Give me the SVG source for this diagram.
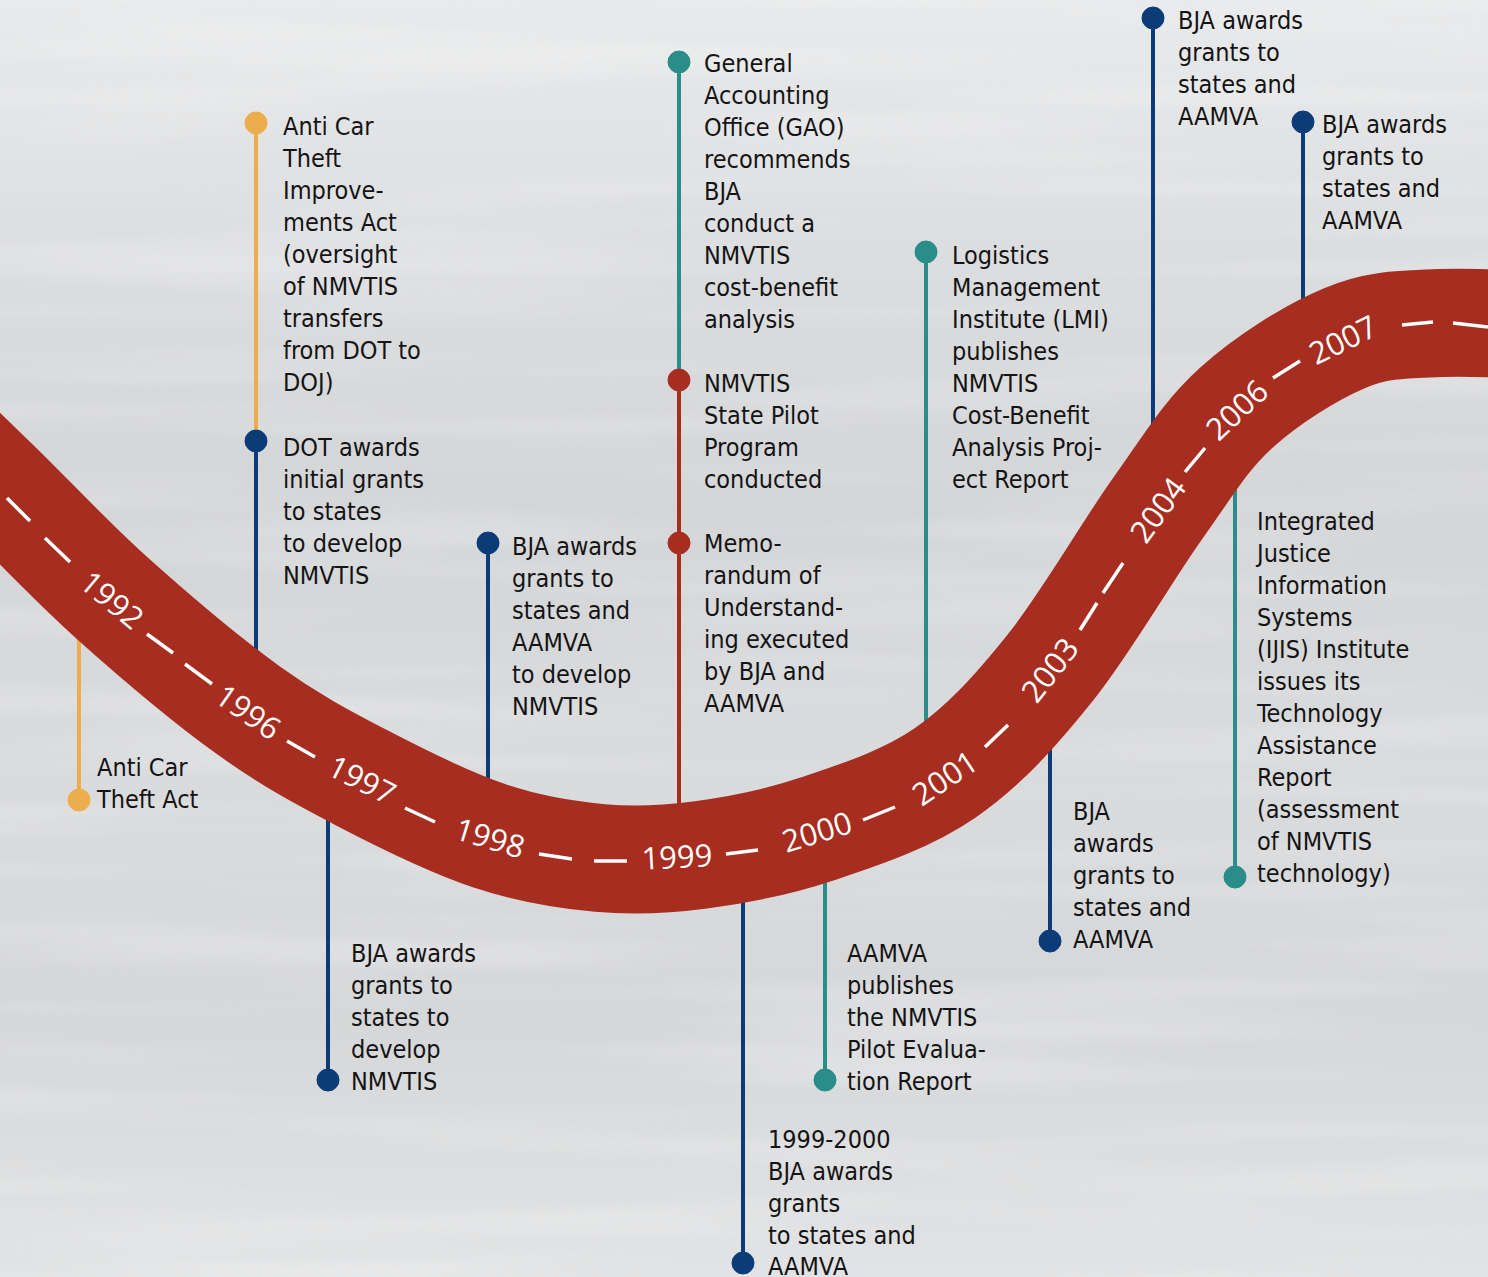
<svg xmlns="http://www.w3.org/2000/svg" width="1488" height="1277" viewBox="0 0 1488 1277">
<defs>
<linearGradient id="bg" x1="0" y1="0" x2="0" y2="1">
<stop offset="0" stop-color="#e9eaeb"/>
<stop offset="0.2" stop-color="#dcdddf"/>
<stop offset="0.4" stop-color="#d4d5d7"/>
<stop offset="0.6" stop-color="#dadbdd"/>
<stop offset="0.8" stop-color="#d6d7d9"/>
<stop offset="1" stop-color="#e2e3e4"/>
</linearGradient>
<filter id="streak" x="0" y="0" width="100%" height="100%">
<feTurbulence type="fractalNoise" baseFrequency="0.0015 0.025" numOctaves="2" seed="3"/>
<feColorMatrix type="matrix" values="0 0 0 0 1  0 0 0 0 1  0 0 0 0 1  1.2 0 0 0 -0.55"/>
</filter>
<style>
.t{font-family:"DejaVu Sans Condensed","DejaVu Sans",sans-serif;font-stretch:condensed;font-size:25px;fill:#141414}
.yr{font-family:"Open Sans","Liberation Sans",sans-serif;font-size:31px;fill:#ffffff;text-anchor:middle}
.dash{stroke:#ffffff;stroke-width:3.5;fill:none}
.ln{stroke-width:4;fill:none}
.yel{stroke:#ECAE4C;fill:#ECAE4C}
.blu{stroke:#0C3C78;fill:#0C3C78}
.tea{stroke:#2A8D88;fill:#2A8D88}
.red{stroke:#A62D20;fill:#A62D20}
</style>
</defs>
<rect width="1488" height="1277" fill="url(#bg)"/>
<rect width="1488" height="1277" filter="url(#streak)" opacity="0.5"/>

<g id="connectors">
<line class="ln yel" x1="79" y1="600" x2="79" y2="800"/>
<line class="ln yel" x1="256" y1="123" x2="256" y2="441"/>
<line class="ln blu" x1="256" y1="441" x2="256" y2="700"/>
<line class="ln blu" x1="488" y1="543" x2="488" y2="830"/>
<line class="ln blu" x1="328" y1="780" x2="328" y2="1080"/>
<line class="ln tea" x1="679" y1="62" x2="679" y2="380"/>
<line class="ln red" x1="679" y1="380" x2="679" y2="543"/>
<line class="ln red" x1="679" y1="543" x2="679" y2="850"/>
<line class="ln blu" x1="743" y1="860" x2="743" y2="1263"/>
<line class="ln tea" x1="825" y1="840" x2="825" y2="1080"/>
<line class="ln tea" x1="926" y1="252" x2="926" y2="780"/>
<line class="ln blu" x1="1050" y1="700" x2="1050" y2="941"/>
<line class="ln blu" x1="1153" y1="18" x2="1153" y2="500"/>
<line class="ln blu" x1="1303" y1="122" x2="1303" y2="360"/>
<line class="ln tea" x1="1235" y1="420" x2="1235" y2="877"/>
</g>

<g id="band">
<path d="M-60,430 C-40,449.3 -28.7,460 0,488 C28.7,516 70.7,561 112,598 C153.3,635 206.3,680 248,710 C289.7,740 321.7,757 362,778 C402.3,799 450.3,822.7 490,836 C529.7,849.3 565,854.8 600,858 C635,861.2 663.8,859.8 700,855 C736.2,850.2 776.2,842.7 817,829 C857.8,815.3 906.2,799.8 945,773 C983.8,746.2 1014.5,712.2 1050,668 C1085.5,623.8 1127,551.3 1158,508 C1189,464.7 1204.8,436.3 1236,408 C1267.2,379.7 1311,352.3 1345,338 C1379,323.7 1405.8,324.5 1440,323 C1474.2,321.5 1513.3,324.7 1550,325" fill="none" stroke="#A62D20" stroke-width="108"/>
<line class="dash" x1="7" y1="498" x2="30" y2="521"/>
<line class="dash" x1="45" y1="538" x2="70" y2="562"/>
<line class="dash" x1="147" y1="634" x2="173" y2="653"/>
<line class="dash" x1="185" y1="664" x2="212" y2="684"/>
<line class="dash" x1="287" y1="741" x2="315" y2="757"/>
<line class="dash" x1="405" y1="808" x2="435" y2="822"/>
<line class="dash" x1="539" y1="854" x2="572" y2="859"/>
<line class="dash" x1="594" y1="861" x2="627" y2="861"/>
<line class="dash" x1="726" y1="854" x2="758" y2="850"/>
<line class="dash" x1="863" y1="820" x2="895" y2="807"/>
<line class="dash" x1="985" y1="747" x2="1008" y2="725"/>
<line class="dash" x1="1080" y1="630" x2="1097" y2="603"/>
<line class="dash" x1="1103" y1="593" x2="1123" y2="563"/>
<line class="dash" x1="1185" y1="472" x2="1205" y2="448"/>
<line class="dash" x1="1273" y1="378" x2="1300" y2="361"/>
<line class="dash" x1="1402" y1="325" x2="1433" y2="322"/>
<line class="dash" x1="1453" y1="323" x2="1488" y2="327"/>
<text class="yr" transform="translate(112,600) rotate(40)" dy="11">1992</text>
<text class="yr" transform="translate(248,712) rotate(35)" dy="11">1996</text>
<text class="yr" transform="translate(362,780) rotate(27)" dy="11">1997</text>
<text class="yr" transform="translate(490,838) rotate(17)" dy="11">1998</text>
<text class="yr" transform="translate(677,857) rotate(-3)" dy="11">1999</text>
<text class="yr" transform="translate(817,832) rotate(-17)" dy="11">2000</text>
<text class="yr" transform="translate(945,778) rotate(-34)" dy="11">2001</text>
<text class="yr" transform="translate(1050,670) rotate(-52)" dy="11">2003</text>
<text class="yr" transform="translate(1158,510) rotate(-54)" dy="11">2004</text>
<text class="yr" transform="translate(1237,410) rotate(-43)" dy="11">2006</text>
<text class="yr" transform="translate(1343,340) rotate(-26)" dy="11">2007</text>
</g>

<g id="n-anti-car-theft-act">
<circle class="yel" cx="79" cy="800" r="11"/>
<text class="t"><tspan x="97" y="776">Anti Car</tspan><tspan x="97" y="808">Theft Act</tspan></text>
</g>
<g id="n-improvements-act">
<circle class="yel" cx="256" cy="123" r="11"/>
<text class="t"><tspan x="283" y="135">Anti Car</tspan><tspan x="283" y="167">Theft</tspan><tspan x="283" y="199">Improve-</tspan><tspan x="283" y="231">ments Act</tspan><tspan x="283" y="263">(oversight</tspan><tspan x="283" y="295">of NMVTIS</tspan><tspan x="283" y="327">transfers</tspan><tspan x="283" y="359">from DOT to</tspan><tspan x="283" y="391">DOJ)</tspan></text>
</g>
<g id="n-dot-awards">
<circle class="blu" cx="256" cy="441" r="11"/>
<text class="t"><tspan x="283" y="456">DOT awards</tspan><tspan x="283" y="488">initial grants</tspan><tspan x="283" y="520">to states</tspan><tspan x="283" y="552">to develop</tspan><tspan x="283" y="584">NMVTIS</tspan></text>
</g>
<g id="n-bja-1997">
<circle class="blu" cx="328" cy="1080" r="11"/>
<text class="t"><tspan x="351" y="962">BJA awards</tspan><tspan x="351" y="994">grants to</tspan><tspan x="351" y="1026">states to</tspan><tspan x="351" y="1058">develop</tspan><tspan x="351" y="1090">NMVTIS</tspan></text>
</g>
<g id="n-bja-1998">
<circle class="blu" cx="488" cy="543" r="11"/>
<text class="t"><tspan x="512" y="555">BJA awards</tspan><tspan x="512" y="587">grants to</tspan><tspan x="512" y="619">states and</tspan><tspan x="512" y="651">AAMVA</tspan><tspan x="512" y="683">to develop</tspan><tspan x="512" y="715">NMVTIS</tspan></text>
</g>
<g id="n-gao">
<circle class="tea" cx="679" cy="62" r="11"/>
<text class="t"><tspan x="704" y="72">General</tspan><tspan x="704" y="104">Accounting</tspan><tspan x="704" y="136">Office (GAO)</tspan><tspan x="704" y="168">recommends</tspan><tspan x="704" y="200">BJA</tspan><tspan x="704" y="232">conduct a</tspan><tspan x="704" y="264">NMVTIS</tspan><tspan x="704" y="296">cost-benefit</tspan><tspan x="704" y="328">analysis</tspan></text>
</g>
<g id="n-pilot">
<circle class="red" cx="679" cy="380" r="11"/>
<text class="t"><tspan x="704" y="392">NMVTIS</tspan><tspan x="704" y="424">State Pilot</tspan><tspan x="704" y="456">Program</tspan><tspan x="704" y="488">conducted</tspan></text>
</g>
<g id="n-mou">
<circle class="red" cx="679" cy="543" r="11"/>
<text class="t"><tspan x="704" y="552">Memo-</tspan><tspan x="704" y="584">randum of</tspan><tspan x="704" y="616">Understand-</tspan><tspan x="704" y="648">ing executed</tspan><tspan x="704" y="680">by BJA and</tspan><tspan x="704" y="712">AAMVA</tspan></text>
</g>
<g id="n-bja-1999-2000">
<circle class="blu" cx="743" cy="1263" r="11"/>
<text class="t"><tspan x="768" y="1148">1999-2000</tspan><tspan x="768" y="1180">BJA awards</tspan><tspan x="768" y="1212">grants</tspan><tspan x="768" y="1244">to states and</tspan><tspan x="768" y="1275">AAMVA</tspan></text>
</g>
<g id="n-aamva-report">
<circle class="tea" cx="825" cy="1080" r="11"/>
<text class="t"><tspan x="847" y="962">AAMVA</tspan><tspan x="847" y="994">publishes</tspan><tspan x="847" y="1026">the NMVTIS</tspan><tspan x="847" y="1058">Pilot Evalua-</tspan><tspan x="847" y="1090">tion Report</tspan></text>
</g>
<g id="n-lmi">
<circle class="tea" cx="926" cy="252" r="11"/>
<text class="t"><tspan x="952" y="264">Logistics</tspan><tspan x="952" y="296">Management</tspan><tspan x="952" y="328">Institute (LMI)</tspan><tspan x="952" y="360">publishes</tspan><tspan x="952" y="392">NMVTIS</tspan><tspan x="952" y="424">Cost-Benefit</tspan><tspan x="952" y="456">Analysis Proj-</tspan><tspan x="952" y="488">ect Report</tspan></text>
</g>
<g id="n-bja-2003">
<circle class="blu" cx="1050" cy="941" r="11"/>
<text class="t"><tspan x="1073" y="820">BJA</tspan><tspan x="1073" y="852">awards</tspan><tspan x="1073" y="884">grants to</tspan><tspan x="1073" y="916">states and</tspan><tspan x="1073" y="948">AAMVA</tspan></text>
</g>
<g id="n-bja-2004">
<circle class="blu" cx="1153" cy="18" r="11"/>
<text class="t"><tspan x="1178" y="29">BJA awards</tspan><tspan x="1178" y="61">grants to</tspan><tspan x="1178" y="93">states and</tspan><tspan x="1178" y="125">AAMVA</tspan></text>
</g>
<g id="n-bja-2007">
<circle class="blu" cx="1303" cy="122" r="11"/>
<text class="t"><tspan x="1322" y="133">BJA awards</tspan><tspan x="1322" y="165">grants to</tspan><tspan x="1322" y="197">states and</tspan><tspan x="1322" y="229">AAMVA</tspan></text>
</g>
<g id="n-ijis">
<circle class="tea" cx="1235" cy="877" r="11"/>
<text class="t"><tspan x="1257" y="530">Integrated</tspan><tspan x="1257" y="562">Justice</tspan><tspan x="1257" y="594">Information</tspan><tspan x="1257" y="626">Systems</tspan><tspan x="1257" y="658">(IJIS) Institute</tspan><tspan x="1257" y="690">issues its</tspan><tspan x="1257" y="722">Technology</tspan><tspan x="1257" y="754">Assistance</tspan><tspan x="1257" y="786">Report</tspan><tspan x="1257" y="818">(assessment</tspan><tspan x="1257" y="850">of NMVTIS</tspan><tspan x="1257" y="882">technology)</tspan></text>
</g>
</svg>
